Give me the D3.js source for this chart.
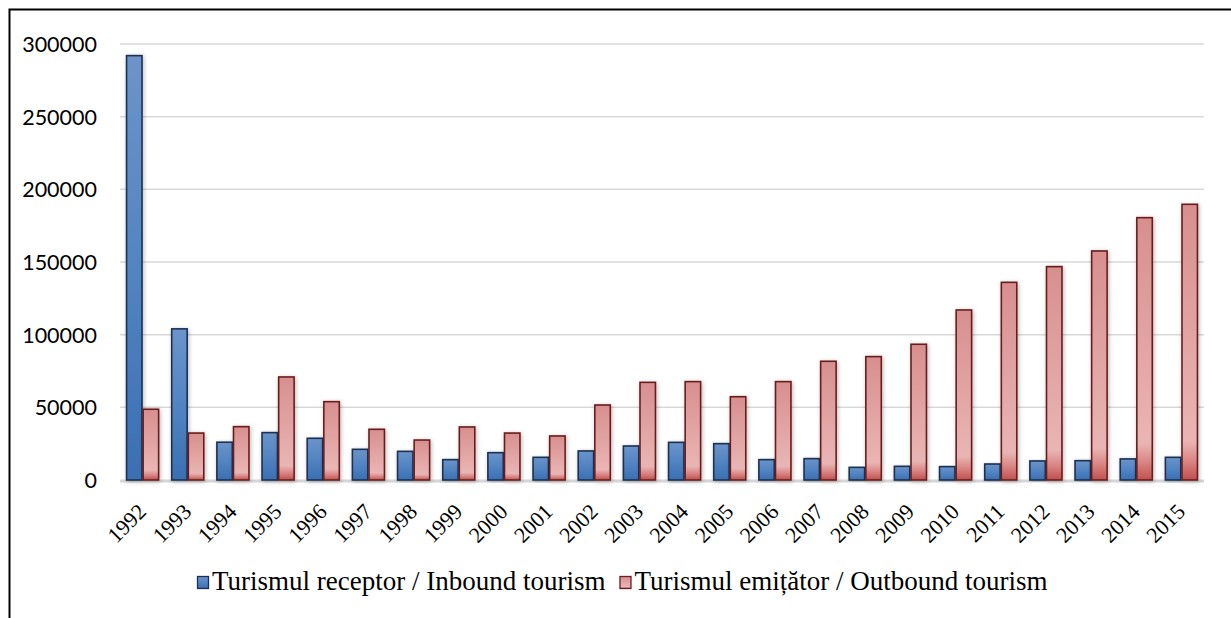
<!DOCTYPE html>
<html>
<head>
<meta charset="utf-8">
<script src="https://cdn.jsdelivr.net/npm/d3@7"></script>
<style>
  html, body { margin: 0; padding: 0; background: #fff; }
  svg { display: block; }
</style>
</head>
<body>
<svg id="chart" width="1231" height="618"></svg>
<script>
const years = ["1992","1993","1994","1995","1996","1997","1998","1999","2000","2001","2002","2003","2004","2005","2006","2007","2008","2009","2010","2011","2012","2013","2014","2015"];
const inbound = [292000,104000,26000,32600,28700,21100,19700,14000,18800,15600,20000,23400,25900,25000,14000,14700,8700,9400,9200,11000,13100,13300,14500,15600];
const outbound = [48700,32300,36700,70900,53900,34900,27500,36500,32300,30300,51600,67200,67700,57300,67700,81700,84900,93400,117000,136000,146800,157600,180500,189700];
const seriesNames = ["Turismul receptor / Inbound tourism", "Turismul emițător / Outbound tourism"];
const yTicks = [0, 50000, 100000, 150000, 200000, 250000, 300000];

const svg = d3.select("#chart");
const defs = svg.append("defs");

const gBlue = defs.append("linearGradient").attr("id","gBlue").attr("x1",0).attr("y1",0).attr("x2",0).attr("y2",1);
[[0,"#6b94ca"],[0.5,"#5384c2"],[1,"#3a6fb3"]].forEach(([o,c]) => gBlue.append("stop").attr("offset",o).attr("stop-color",c));
const gRed = defs.append("linearGradient").attr("id","gRed").attr("x1",0).attr("y1",0).attr("x2",0).attr("y2",1);
[[0,"#d78f8e"],[0.86,"#e9b5b4"],[0.93,"#d98685"],[1,"#c0504d"]].forEach(([o,c]) => gRed.append("stop").attr("offset",o).attr("stop-color",c));

const shadow = defs.append("filter").attr("id","shadow").attr("x","-50%").attr("y","-10%").attr("width","200%").attr("height","120%");
shadow.append("feDropShadow").attr("dx",1).attr("dy",1).attr("stdDeviation",2).attr("flood-color","#000").attr("flood-opacity",0.28);

// frame
svg.append("rect").attr("x",9.5).attr("y",9.5).attr("width",1300).attr("height",700)
  .attr("fill","none").attr("stroke","#000").attr("stroke-width",2);

const plotLeft = 120, plotRight = 1204, plotTop = 44, plotBottom = 480;
const x0 = d3.scaleBand().domain(years).range([plotLeft, plotRight]).padding(0);
const bw = x0.bandwidth();
const x1 = d3.scaleBand().domain([0,1]).range([bw*0.145, bw*0.855]).paddingInner(0.07).paddingOuter(0);
const y = d3.scaleLinear().domain([0, 300000]).range([plotBottom, plotTop]);

// grid
svg.append("g").selectAll("line").data(yTicks.filter(d => d > 0)).join("line")
  .attr("x1", plotLeft).attr("x2", plotRight)
  .attr("y1", d => y(d)).attr("y2", d => y(d))
  .attr("stroke","#d9d9d9").attr("stroke-width",1.5);

// baseline
svg.append("line").attr("x1", plotLeft).attr("x2", plotRight).attr("y1", y(0)+1).attr("y2", y(0)+1)
  .attr("stroke","#d6d6d6").attr("stroke-width",3);

// y axis labels
const yAxis = d3.axisLeft(y).tickValues(yTicks).tickSize(0).tickPadding(0).tickFormat(d3.format("d"));
const ya = svg.append("g").attr("transform", `translate(97,0)`).call(yAxis);
ya.select(".domain").remove();
ya.selectAll("text").attr("font-family","Lato, 'Open Sans', sans-serif").attr("font-size",21.5).attr("fill","#000").attr("dy","0.35em");

// bars
const rows = years.map((yr,i) => ({yr, vals:[inbound[i], outbound[i]]}));
const groups = svg.append("g").selectAll("g").data(rows).join("g")
  .attr("transform", d => `translate(${x0(d.yr)},0)`);
groups.selectAll("rect").data(d => d.vals.map((v,k) => ({v,k}))).join("rect")
  .attr("x", d => x1(d.k)).attr("width", x1.bandwidth())
  .attr("y", d => y(d.v)).attr("height", d => y(0) - y(d.v))
  .attr("fill", d => d.k === 0 ? "url(#gBlue)" : "url(#gRed)")
  .attr("stroke", d => d.k === 0 ? "#1c3152" : "#6b1e1e")
  .attr("stroke-width", 1.6)
  .attr("filter","url(#shadow)");

// x labels
const xAxis = d3.axisBottom(x0).tickSize(0).tickPadding(0);
const xa = svg.append("g").call(xAxis);
xa.select(".domain").remove();
xa.selectAll(".tick").attr("transform", d => `translate(${x0(d) + bw/2 + 5},513)`);
xa.selectAll("text").attr("font-family","'Liberation Serif', 'Times New Roman', serif").attr("font-size",22)
  .attr("fill","#000").attr("text-anchor","end").attr("y",0).attr("dy",0)
  .attr("transform","rotate(-45)");

// legend
const leg = svg.append("g");
let lx = 197;
seriesNames.forEach((name, k) => {
  leg.append("rect").attr("x", lx + 0.5).attr("y", 576.5).attr("width", 11).attr("height", 12)
    .attr("fill", k === 0 ? "url(#gBlue)" : "url(#gRed)")
    .attr("stroke", k === 0 ? "#1c3152" : "#6b1e1e").attr("stroke-width", 1.3);
  const t = leg.append("text").attr("x", lx + 15).attr("y", 590)
    .attr("font-family","'Liberation Serif', 'Times New Roman', serif").attr("font-size",27)
    .attr("fill","#000").text(name);
  const w = t.node().getComputedTextLength();
  lx = lx + 15 + w + 14;
});
</script>
</body>
</html>
